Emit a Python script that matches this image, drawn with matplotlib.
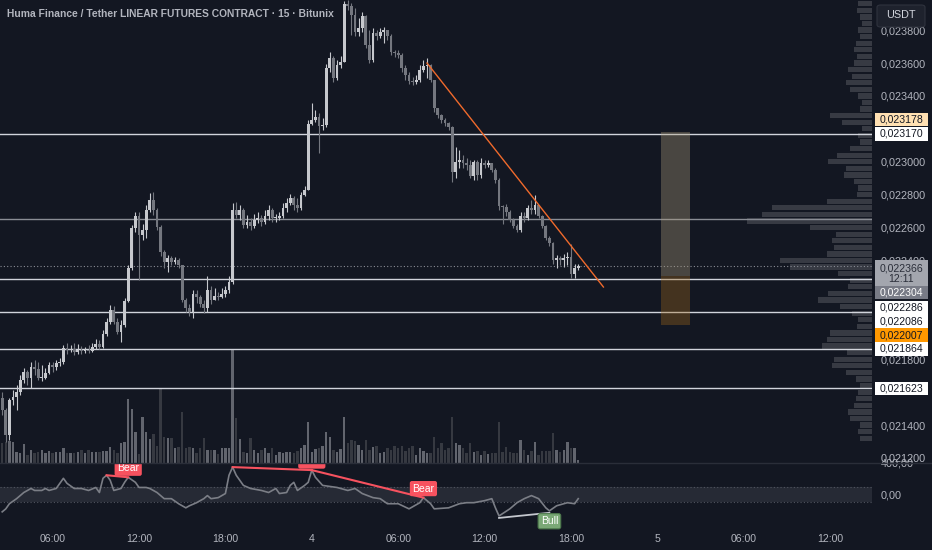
import numpy as np
import matplotlib
matplotlib.use("Agg")
import matplotlib.pyplot as plt
from matplotlib import transforms
from matplotlib.lines import Line2D
from matplotlib.patches import Rectangle, FancyBboxPatch

plt.rcParams['font.family'] = ['Liberation Sans', 'DejaVu Sans']

TITLE = "Huma Finance / Tether LINEAR FUTURES CONTRACT \u00b7 15 \u00b7 Bitunix"

# 15 minute candles, prices in millionths of a USDT
first_open = 21565
close = [21492, 21340, 21553, 21571, 21601, 21674, 21723, 21686, 21753, 21741,
         21686, 21686, 21717, 21765, 21753, 21777, 21783, 21869, 21856, 21862,
         21844, 21856, 21850, 21856, 21850, 21875, 21893, 21875, 21954, 22027,
         22099, 22027, 21966, 22008, 22154, 22355, 22598, 22671, 22555, 22586,
         22707, 22768, 22707, 22604, 22452, 22391, 22415, 22391, 22403, 22373,
         22160, 22112, 22087, 22197, 22178, 22136, 22112, 22221, 22160, 22185,
         22178, 22197, 22221, 22270, 22707, 22677, 22707, 22616, 22634, 22610,
         22646, 22658, 22634, 22671, 22707, 22658, 22658, 22671, 22719, 22750,
         22780, 22737, 22719, 22798, 22829, 23230, 23254, 23272, 23217, 23223,
         23570, 23631, 23509, 23588, 23606, 23959, 23947, 23892, 23789, 23813,
         23886, 23710, 23618, 23782, 23764, 23789, 23801, 23764, 23667, 23661,
         23649, 23570, 23527, 23491, 23485, 23497, 23558, 23582, 23588, 23497,
         23327, 23284, 23254, 23236, 23211, 22938, 22999, 23011, 22993, 22980,
         22914, 22999, 22920, 22993, 22980, 22993, 22950, 22889, 22731, 22725,
         22695, 22646, 22610, 22586, 22671, 22658, 22719, 22707, 22737, 22671,
         22610, 22537, 22507, 22403, 22415, 22403, 22415, 22421, 22318, 22355,
         22366]
high = [21601, 21504, 21565, 21613, 21644, 21704, 21747, 21735, 21783, 21796,
        21783, 21765, 21747, 21783, 21783, 21796, 21808, 21887, 21899, 21887,
        21899, 21893, 21881, 21875, 21887, 21899, 21923, 21917, 21978, 22051,
        22130, 22124, 22051, 22039, 22172, 22373, 22616, 22695, 22695, 22622,
        22737, 22810, 22816, 22719, 22616, 22464, 22434, 22428, 22421, 22415,
        22373, 22172, 22136, 22221, 22221, 22191, 22160, 22306, 22245, 22233,
        22209, 22233, 22245, 22306, 22750, 22756, 22737, 22719, 22677, 22658,
        22683, 22695, 22677, 22707, 22737, 22719, 22683, 22695, 22750, 22780,
        22804, 22792, 22780, 22816, 22853, 23254, 23357, 23315, 23296, 23266,
        23594, 23667, 23643, 23618, 23643, 23978, 23983, 23965, 23934, 23874,
        23910, 23892, 23801, 23813, 23801, 23813, 23819, 23801, 23776, 23679,
        23679, 23661, 23588, 23546, 23515, 23527, 23588, 23618, 23631, 23594,
        23497, 23327, 23290, 23266, 23242, 23217, 23090, 23072, 23041, 23023,
        23011, 23011, 23011, 23023, 23011, 23011, 22993, 22962, 22901, 22737,
        22744, 22707, 22658, 22622, 22695, 22695, 22737, 22768, 22798, 22737,
        22677, 22616, 22549, 22513, 22434, 22428, 22440, 22452, 22500, 22379,
        22379]
low = [21461, 21297, 21310, 21522, 21492, 21583, 21656, 21644, 21626, 21704,
       21674, 21668, 21680, 21711, 21723, 21735, 21759, 21771, 21832, 21844,
       21826, 21832, 21832, 21838, 21838, 21844, 21862, 21862, 21869, 21941,
       22014, 22014, 21954, 21905, 21996, 22148, 22342, 22573, 22282, 22525,
       22537, 22695, 22677, 22586, 22428, 22355, 22330, 22373, 22379, 22355,
       22148, 22087, 22063, 22051, 22142, 22118, 22081, 22087, 22136, 22160,
       22160, 22172, 22178, 22203, 22257, 22658, 22646, 22598, 22598, 22586,
       22598, 22628, 22610, 22622, 22646, 22634, 22634, 22646, 22658, 22695,
       22737, 22707, 22695, 22707, 22792, 22829, 23223, 23242, 23053, 23193,
       23211, 23546, 23485, 23497, 23570, 23606, 23922, 23770, 23764, 23764,
       23789, 23691, 23600, 23606, 23740, 23752, 23722, 23740, 23649, 23637,
       23631, 23546, 23497, 23473, 23467, 23473, 23485, 23546, 23509, 23485,
       23302, 23266, 23236, 23217, 23193, 22877, 22901, 22962, 22962, 22950,
       22901, 22889, 22889, 22901, 22962, 22968, 22938, 22871, 22707, 22622,
       22671, 22634, 22598, 22573, 22573, 22634, 22646, 22683, 22683, 22658,
       22598, 22525, 22488, 22379, 22355, 22373, 22361, 22373, 22294, 22294,
       22342]
# volume per candle, thousand contracts
volume = [20, 21, 22, 21, 11, 10, 19, 8, 13, 10,
          11, 13, 10, 12, 10, 11, 11, 15, 10, 10,
          10, 11, 13, 10, 13, 11, 11, 11, 12, 12,
          16, 13, 10, 20, 21, 64, 54, 31, 9, 46,
          31, 24, 29, 17, 74, 26, 25, 25, 15, 16,
          51, 15, 16, 15, 10, 15, 25, 13, 13, 13,
          9, 15, 15, 15, 114, 45, 24, 11, 10, 25,
          13, 10, 13, 15, 10, 15, 8, 11, 10, 11,
          11, 10, 12, 15, 18, 41, 11, 14, 15, 17,
          31, 26, 13, 11, 14, 46, 20, 23, 22, 18,
          13, 23, 13, 16, 17, 10, 11, 15, 13, 17,
          15, 17, 12, 15, 17, 8, 15, 12, 10, 10,
          26, 15, 20, 13, 15, 46, 20, 18, 15, 10,
          20, 11, 12, 8, 12, 9, 10, 10, 41, 11,
          16, 11, 10, 10, 23, 13, 8, 12, 21, 8,
          12, 12, 12, 30, 13, 11, 13, 21, 15, 15,
          3]

first_bar_hour = 2.5      # first candle opens 02:30 on the 3rd
bar_hours = 0.25
tick_hours = [6, 12, 18, 24, 30, 36, 42, 48, 54, 60]
tick_labels = ['06:00', '12:00', '18:00', '4', '06:00', '12:00', '18:00', '5', '06:00', '12:00']

# scale labels that are not hidden behind the price tags
price_ticks = [21200, 21400, 21800, 22400,
               22600, 22800, 23000, 23400, 23600, 23800]

level_lines = [23170, 22652, 22286, 22086, 21864, 21623]
level_tags = [23170, 22286, 22086, 21864, 21623]
last_price = 22366
countdown = '12:11'

# short position tool
pos_upper = 23178
pos_entry = 22304
pos_lower = 22007
pos_hours = [48.25, 50.25]

trend_hours = [32.0, 44.25]
trend_prices = [23600, 22239]

# visible range volume profile
vp_low = 21300
vp_step = 40
vp_volume = [12, 14, 12, 22, 24, 18, 16, 14, 12, 16,
             26, 40, 38, 25, 50, 45, 42, 15, 14, 20,
             32, 54, 44, 24, 22, 34, 82, 92, 45, 38,
             40, 36, 62, 125, 110, 100, 45, 15, 14, 18,
             28, 26, 44, 35, 22, 12, 14, 10, 30, 42,
             12, 10, 14, 22, 26, 20, 24, 18, 15, 18,
             16, 12, 14, 10, 12, 15, 14]

# oscillator pane
osc_bar = [0, 1, 2, 4, 5, 6, 8, 9, 11, 12,
           13, 15, 17, 18, 20, 22, 24, 26, 27, 28,
           29, 30, 31, 33, 34, 35, 37, 38, 40, 41,
           43, 45, 47, 49, 51, 52, 54, 55, 56, 57,
           58, 60, 62, 63, 64, 65, 67, 69, 72, 74,
           76, 77, 79, 80, 81, 82, 84, 85, 86, 87,
           89, 93, 96, 98, 100, 103, 105, 107, 110, 113,
           116, 117, 119, 120, 124, 127, 129, 131, 134, 136,
           137, 138, 141, 143, 145, 147, 149, 151, 152, 154,
           157, 159, 160]
osc_val = [-219, -181, -116, -52, -13, 26, 77, 52, 52, 77,
           52, 77, 206, 142, 77, 77, 52, 90, 26, 206,
           245, 181, 52, 77, 155, 219, 155, 90, 90, 77,
           26, -52, -52, -116, -168, -142, -103, -77, -52, -13,
           -52, -39, 13, 245, 348, 245, 116, 77, 52, 26,
           77, 13, 26, 116, 155, 52, 116, 155, 310, 219,
           116, 90, 52, 77, 13, -39, -52, -116, -116, -181,
           -103, -39, -116, -181, -168, -116, -103, -103, -77, -52,
           -168, -271, -181, -103, -52, -13, -52, -168, -206, -142,
           -103, -116, -52]
bear_pairs = [(29, 35), (64, 86), (86, 117)]
bull_pairs = [(138, 152)]

BG = '#131722'
TXT = '#b2b5be'
UP = '#c6c8cd'
DOWN = '#74777f'
W, H = 932, 550


def fx(x):
    return x / W


def fy(y):
    return 1 - y / H


def to_bar(hour):
    return (hour - first_bar_hour) / bar_hours


def fmt_price(v):
    return f"{v:.6f}".replace('.', ',')


c = np.array(close) * 1e-6
o = np.concatenate([[first_open], close[:-1]]) * 1e-6
hi = np.maximum(np.array(high) * 1e-6, np.maximum(o, c))
lo = np.minimum(np.array(low) * 1e-6, np.minimum(o, c))
x = np.arange(len(c))
up = c >= o

fig = plt.figure(figsize=(W / 100, H / 100), dpi=100, facecolor=BG)
main_rect = [0, fy(463), fx(872), 463 / H]
xlim = (-0.61, 241.6)
ylim = (0.0211696, 0.023983)

# volume profile (behind everything)
ax_vp = fig.add_axes(main_rect, zorder=0.3)
ax_vp.set_facecolor(BG)
vp_y = (vp_low + vp_step * np.arange(len(vp_volume)) + vp_step / 2) * 1e-6
ax_vp.barh(vp_y, vp_volume, height=vp_step * 1e-6 * 0.8, left=0,
           color='#373a43', edgecolor='none')
ax_vp.set_xlim(872, 0)
ax_vp.set_ylim(*ylim)
ax_vp.axis('off')

# volume bars
ax_vol = fig.add_axes(main_rect, zorder=0.5)
ax_vol.patch.set_visible(False)
ax_vol.bar(x, volume, width=0.7, color=np.where(up, '#62656e', '#363941'))
ax_vol.set_xlim(*xlim)
ax_vol.set_ylim(0, 463)
ax_vol.axis('off')

# price pane
ax = fig.add_axes(main_rect, zorder=1)
ax.patch.set_visible(False)
for s in ax.spines.values():
    s.set_visible(False)
ax.set_xlim(*xlim)
ax.set_ylim(*ylim)
ax.yaxis.tick_right()
ax.set_yticks(np.array(price_ticks) * 1e-6, [fmt_price(p * 1e-6) for p in price_ticks])
ax.tick_params(axis='y', length=0, pad=6.5, labelsize=7.8, labelcolor=TXT)

for lvl in level_lines:
    ax.axhline(lvl * 1e-6, color='#8a8d95' if lvl == 22652 else '#d1d4dc',
               lw=1.0, zorder=2)
ax.axhline(last_price * 1e-6, color='#8a8d95', lw=0.8, ls=(0, (1, 2)), zorder=2)

cols = np.where(up, UP, DOWN)
ax.vlines(x, lo, hi, colors=cols, lw=0.8, zorder=3)
ax.bar(x, np.maximum(np.abs(c - o), 5e-6), bottom=np.minimum(o, c),
       width=0.78, color=cols, zorder=3)

ax.plot(to_bar(np.array(trend_hours)), np.array(trend_prices) * 1e-6,
        color='#f06a2c', lw=1.0, zorder=4)

px0, px1 = to_bar(pos_hours[0]), to_bar(pos_hours[1])
ax.add_patch(Rectangle((px0, pos_entry * 1e-6), px1 - px0, (pos_upper - pos_entry) * 1e-6,
                       fc='#ae9e7c', alpha=0.35, ec='none', zorder=2.5))
ax.add_patch(Rectangle((px0, pos_lower * 1e-6), px1 - px0, (pos_entry - pos_lower) * 1e-6,
                       fc='#a0681a', alpha=0.35, ec='none', zorder=2.5))

# price tags on the scale, fixed-size boxes like the trading terminal draws
tag_tf = transforms.blended_transform_factory(ax.transAxes, ax.transData)
price_per_px = (ylim[1] - ylim[0]) / 463


def tag(price, text, face, ink, shift=0.0, rows=1):
    off = transforms.ScaledTranslation(0, -shift / 100, fig.dpi_scale_trans)
    half = (6.8 if rows == 1 else 13.5) * price_per_px
    ax.add_patch(Rectangle((1 + 3 / 872, price * 1e-6 - half), 53 / 872, 2 * half,
                           transform=tag_tf + off, fc=face, ec='none',
                           clip_on=False, zorder=9))
    ax.text(1 + 29.5 / 872, price * 1e-6, text, transform=tag_tf + off,
            ha='center', va='center', fontsize=7.6, color=ink, zorder=10,
            clip_on=False, linespacing=1.15)


tag(pos_upper, fmt_price(pos_upper * 1e-6), '#ffe0b2', '#131722', -13)
for lvl, sh in zip(level_tags, [0, 28.5, 9.5, 0, 0]):
    tag(lvl, fmt_price(lvl * 1e-6), 'white', '#131722', sh)
tag(last_price, fmt_price(last_price * 1e-6) + '\n' + countdown, '#a3a6ae', '#2a2e39',
    7.5, rows=2)
tag(pos_entry, fmt_price(pos_entry * 1e-6), '#787b86', 'white', 16)
tag(pos_lower, fmt_price(pos_lower * 1e-6), '#ff9800', '#131722', 10)

# oscillator pane
ax_osc = fig.add_axes([0, fy(521), fx(872), 58 / H], sharex=ax)
ax_osc.patch.set_visible(False)
for s in ax_osc.spines.values():
    s.set_visible(False)
ax_osc.set_ylim(-335, 400)
ax_osc.axhspan(-100, 100, color='#262a35', lw=0)
for b in (-100, 100):
    ax_osc.axhline(b, color='#50545f', lw=0.8, ls=(0, (1, 2)))
ax_osc.plot(osc_bar, osc_val, color='#7b7e86', lw=1.2, zorder=3)

osc = dict(zip(osc_bar, osc_val))
for a, b in bear_pairs:
    ax_osc.plot([a, b], [osc[a], osc[b]], color='#f7525f', lw=1.5, zorder=4)
    ax_osc.annotate('Bear', (b, osc[b]), xytext=(0, 6.5), textcoords='offset points',
                    ha='center', va='center', fontsize=7.5, color='white',
                    clip_on=True, zorder=5,
                    bbox=dict(boxstyle='round,pad=0.25,rounding_size=0.2',
                              fc='#f7525f', ec='none'))
for a, b in bull_pairs:
    ax_osc.plot([a, b], [osc[a] - 25, osc[b] - 25], color='#c4c7ce', lw=1.3, zorder=4)
    ax_osc.annotate('Bull', (b, osc[b]), xytext=(0, -7.5), textcoords='offset points',
                    ha='center', va='center', fontsize=7.5, color='white',
                    annotation_clip=False, zorder=5,
                    bbox=dict(boxstyle='round,pad=0.25,rounding_size=0.2',
                              fc='#7aa876', ec='#4e7a4d', lw=0.8))

ax_osc.yaxis.tick_right()
ax_osc.set_yticks([0, 400], ['0,00', '400,00'])
ax_osc.tick_params(axis='y', length=0, pad=6.5, labelsize=7.8, labelcolor=TXT)
ax_osc.set_xticks([to_bar(h) for h in tick_hours], tick_labels)
ax_osc.tick_params(axis='x', length=0, pad=9, labelsize=7.6, labelcolor=TXT)
ax.tick_params(axis='x', length=0, labelbottom=False)

fig.add_artist(Line2D([0, 1], [fy(463)] * 2, color='#2a2e39', lw=1.0, zorder=0.9))

fig.text(fx(7), fy(14), TITLE, ha='left', va='center', fontsize=7.4,
         fontweight='bold', color=TXT, zorder=8)
fig.add_artist(FancyBboxPatch((fx(877), fy(27)), fx(48), 22 / H,
                              boxstyle='round,pad=0,rounding_size=0.004',
                              transform=fig.transFigure, fc='#1e222d',
                              ec='#2f333e', lw=0.8, zorder=5))
fig.text(fx(901), fy(15.5), 'USDT', ha='center', va='center', fontsize=7.8,
         color='#d1d4dc', zorder=6)

fig.savefig('out.png', dpi=100, facecolor=BG)
